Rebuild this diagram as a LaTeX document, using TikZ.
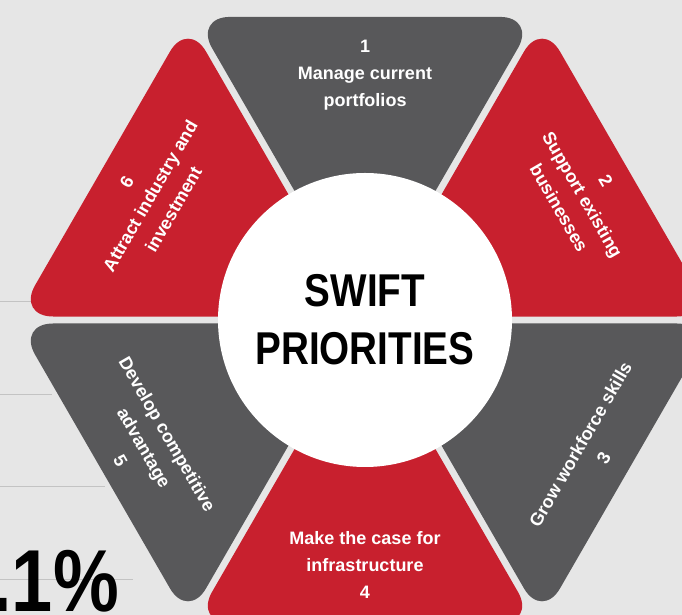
\documentclass[tikz,border=0pt]{standalone}
\usepackage{fontspec}
\setmainfont{Liberation Sans}
\newfontfamily\condfont[FakeStretch=0.84]{Liberation Sans}
\usetikzlibrary{calc}
\definecolor{bgc}{RGB}{230,230,230}
\definecolor{darkc}{RGB}{88,88,90}
\definecolor{redc}{RGB}{200,32,46}
\definecolor{linec}{RGB}{195,195,195}
\begin{document}
\begin{tikzpicture}[x=1pt,y=1pt,
  wedgetxt/.style={text=white, font=\bfseries\fontsize{18}{27}\selectfont, align=center, inner sep=0pt},
  wedge/.style={rounded corners=36pt},
  rule/.style={draw=linec, line width=1pt}]
\clip (0,0) rectangle (682,615);
\fill[bgc] (0,0) rectangle (682,615);
\coordinate (C) at (365,295);
% left rules
\coordinate (r1a) at (0,313); \coordinate (r1b) at (33,313);
\coordinate (r2a) at (0,220); \coordinate (r2b) at (52,220);
\coordinate (r3a) at (0,128); \coordinate (r3b) at (105,128);
\coordinate (r4a) at (0,35);  \coordinate (r4b) at (133,35);
\draw[rule] (r1a) -- (r1b);
\draw[rule] (r2a) -- (r2b);
\draw[rule] (r3a) -- (r3b);
\draw[rule] (r4a) -- (r4b);
% wedges
\foreach \a/\b/\col in {60/120/darkc, 0/60/redc, -60/0/darkc, -120/-60/redc, 180/240/darkc, 120/180/redc} {
  \coordinate (A) at ($(C)+(\a:354)$);
  \coordinate (B) at ($(C)+(\b:354)$);
  \coordinate (G) at ($(C)+({(\a+\b)/2}:204.4)$);
  \fill[\col, wedge] ($(G)!0.9658!(C)$) -- ($(G)!0.9658!(A)$) -- ($(G)!0.9658!(B)$) -- cycle;
}
% hub
\node[circle, fill=white, minimum size=294pt, inner sep=0pt, align=center,
      font=\condfont\bfseries\fontsize{46}{58}\selectfont] (hub) at (C) {SWIFT\\PRIORITIES};
% wedge labels
\node[wedgetxt] (t1) at ($(C)+(90:245)$) {1\\Manage current\\portfolios};
\node[wedgetxt, rotate=-60] (t2) at ($(C)+(30:251)$) {2\\Support existing\\businesses};
\node[wedgetxt, rotate=60] (t3) at ($(C)+(-30:262)$) {Grow workforce skills\\3};
\node[wedgetxt] (t4) at ($(C)+(-90:245)$) {Make the case for\\infrastructure\\4};
\node[wedgetxt, rotate=-60] (t5) at ($(C)+(210:255)$) {Develop competitive\\advantage\\5};
\node[wedgetxt, rotate=60] (t6) at ($(C)+(150:248)$) {6\\Attract industry and\\investment};
% big figure
\node[anchor=base east, inner sep=0pt, font=\condfont\bfseries\fontsize{88}{88}\selectfont] (pct) at (119,3) {.1\%};
\end{tikzpicture}
\end{document}
